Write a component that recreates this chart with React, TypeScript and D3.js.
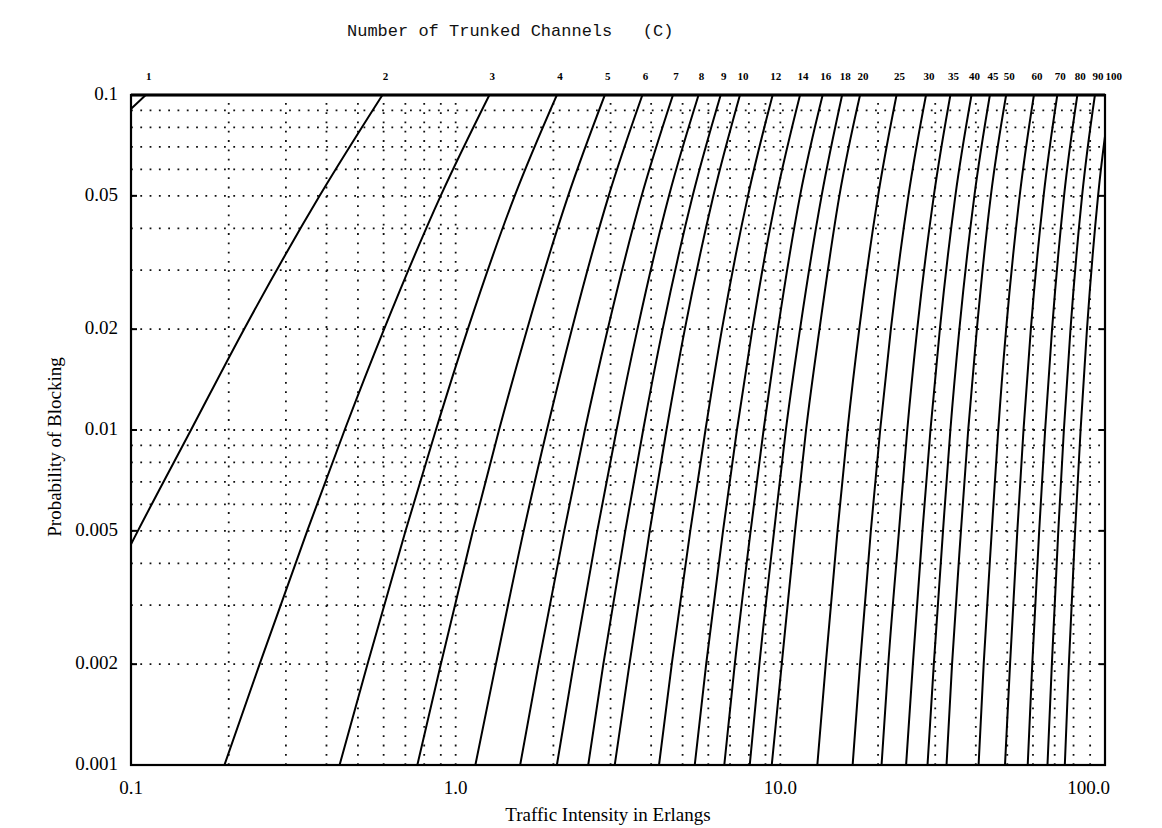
import React from "react";
import * as d3 from "d3";

// Number of trunked channels (one curve each)
const channels = [1, 2, 3, 4, 5, 6, 7, 8, 9, 10, 12, 14, 16, 18, 20, 25, 30, 35, 40, 45, 50, 60, 70, 80, 90, 100];

// Blocking probability levels at which traffic is read
const blockingLevels = [0.001, 0.002, 0.005, 0.01, 0.02, 0.05, 0.1];

// Traffic intensity (Erlangs) per channel count, one array per blocking level
const trafficP001 = [0.001, 0.0458, 0.194, 0.439, 0.762, 1.15, 1.58, 2.05, 2.56, 3.09, 4.23, 5.45, 6.72, 8.05, 9.41, 13.0, 16.7, 20.5, 24.4, 28.4, 32.5, 40.8, 49.2, 57.8, 66.5, 75.2];
const trafficP002 = [0.002, 0.0653, 0.249, 0.535, 0.9, 1.33, 1.8, 2.31, 2.85, 3.43, 4.63, 5.91, 7.24, 8.62, 10.1, 13.8, 17.6, 21.5, 25.6, 29.7, 33.8, 42.3, 51.0, 59.7, 68.6, 77.4];
const trafficP005 = [0.005, 0.105, 0.349, 0.701, 1.13, 1.62, 2.16, 2.73, 3.33, 3.96, 5.28, 6.66, 8.1, 9.57, 11.1, 15.0, 19.0, 23.2, 27.4, 31.7, 36.0, 44.8, 53.7, 62.7, 71.8, 80.9];
const trafficP01 = [0.0101, 0.153, 0.455, 0.869, 1.36, 1.91, 2.5, 3.13, 3.78, 4.46, 5.88, 7.35, 8.88, 10.4, 12.0, 16.1, 20.3, 24.6, 29.0, 33.4, 37.9, 46.9, 56.1, 65.4, 74.7, 84.1];
const trafficP02 = [0.0204, 0.223, 0.602, 1.09, 1.66, 2.28, 2.94, 3.63, 4.34, 5.08, 6.61, 8.2, 9.83, 11.5, 13.2, 17.5, 21.9, 26.4, 31.0, 35.6, 40.3, 49.6, 59.1, 68.7, 78.3, 88.0];
const trafficP05 = [0.0526, 0.381, 0.899, 1.52, 2.22, 2.96, 3.74, 4.54, 5.37, 6.22, 7.95, 9.73, 11.5, 13.4, 15.2, 20.0, 24.8, 29.7, 34.6, 39.6, 44.5, 54.6, 64.7, 74.8, 85.0, 95.2];
const trafficP10 = [0.111, 0.595, 1.27, 2.05, 2.88, 3.76, 4.67, 5.6, 6.55, 7.51, 9.47, 11.5, 13.5, 15.5, 17.6, 22.8, 28.1, 33.4, 38.8, 44.2, 49.6, 60.4, 71.3, 82.2, 93.1, 104.1];

const trafficByLevel = [trafficP001, trafficP002, trafficP005, trafficP01, trafficP02, trafficP05, trafficP10];

// Axis ticks
const xTickValues = [0.1, 1, 10, 100];
const xTickLabels = ["0.1", "1.0", "10.0", "100.0"];
const yTickValues = [0.1, 0.05, 0.02, 0.01, 0.005, 0.002, 0.001];
const yTickLabels = ["0.1", "0.05", "0.02", "0.01", "0.005", "0.002", "0.001"];
const xGridValues = [0.2, 0.3, 0.4, 0.5, 0.6, 0.7, 0.8, 0.9, 1, 2, 3, 4, 5, 6, 7, 8, 9, 10, 20, 30, 40, 50, 60, 70, 80, 90];
const yGridValues = [0.002, 0.003, 0.004, 0.005, 0.006, 0.007, 0.008, 0.009, 0.01, 0.02, 0.03, 0.04, 0.05, 0.06, 0.07, 0.08, 0.09];

const W = 1162;
const H = 828;
const L = 131, R = 1105, T = 95, B = 765;
const SERIF = "'Liberation Serif', 'Times New Roman', serif";

export default function App() {
  const x = d3.scaleLog().domain([0.1, 100]).range([L, R]);
  const y = d3.scaleLog().domain([0.001, 0.1]).range([B, T]);

  const line = d3
    .line<[number, number]>()
    .x((d) => x(d[0]))
    .y((d) => y(d[1]))
    .curve(d3.curveMonotoneX);

  const curves = channels.map((c, i) => {
    const pts: [number, number][] = blockingLevels.map((p, j) => [trafficByLevel[j][i], p]);
    return { c, d: line(pts) as string, topX: x(trafficP10[i]) };
  });

  return (
    <svg
      width={W}
      height={H}
      style={{ position: "absolute", left: 0, top: 0, background: "#fff" }}
    >
      <defs>
        <clipPath id="plot">
          <rect x={L} y={T} width={R - L} height={B - T} />
        </clipPath>
      </defs>
      <rect x={0} y={0} width={W} height={H} fill="#fff" />

      <text
        x={347}
        y={36}
        fontFamily="'Liberation Mono', 'Courier New', monospace"
        fontSize={17}
        fill="#111"
        style={{ whiteSpace: "pre" }}
      >
        {"Number of Trunked Channels   (C)"}
      </text>

      {/* grid */}
      <g stroke="#111" strokeWidth={1.8} strokeDasharray="1.8 7.5" fill="none">
        {xGridValues.map((v) => (
          <line key={"gx" + v} x1={x(v)} x2={x(v)} y1={B} y2={T} />
        ))}
        {yGridValues.map((v) => (
          <line key={"gy" + v} x1={L} x2={R} y1={y(v)} y2={y(v)} />
        ))}
      </g>

      {/* y ticks on both borders */}
      <g stroke="#000" strokeWidth={2}>
        {yTickValues.map((v) => (
          <g key={"yt" + v}>
            <line x1={L} x2={L + 6} y1={y(v)} y2={y(v)} />
            <line x1={R - 6} x2={R} y1={y(v)} y2={y(v)} />
          </g>
        ))}
      </g>

      {/* curves */}
      <g clipPath="url(#plot)" fill="none" stroke="#000" strokeWidth={2}>
        {curves.map((cv) => (
          <path key={"c" + cv.c} d={cv.d} />
        ))}
      </g>

      {/* frame */}
      <rect x={L} y={T} width={R - L} height={B - T} fill="none" stroke="#000" strokeWidth={2.2} />
      <line x1={L} x2={R} y1={T} y2={T} stroke="#000" strokeWidth={3} />

      {/* top channel labels */}
      <g fontFamily={SERIF} fontSize={11} fontWeight="bold" textAnchor="middle" fill="#000">
        {curves.map((cv) => (
          <text key={"tl" + cv.c} x={cv.topX + 3} y={80}>
            {cv.c}
          </text>
        ))}
      </g>

      {/* y tick labels */}
      <g fontFamily={SERIF} fontSize={19} textAnchor="end" fill="#000">
        {yTickValues.map((v, i) => (
          <text key={"yl" + v} x={118} y={y(v) + 5}>
            {yTickLabels[i]}
          </text>
        ))}
      </g>

      {/* x tick labels */}
      <g fontFamily={SERIF} fontSize={19} fill="#000">
        {xTickValues.map((v, i) => (
          <text
            key={"xl" + v}
            x={i === xTickValues.length - 1 ? x(v) + 5 : x(v)}
            y={794}
            textAnchor={i === xTickValues.length - 1 ? "end" : "middle"}
          >
            {xTickLabels[i]}
          </text>
        ))}
      </g>

      <text x={608} y={821} fontFamily={SERIF} fontSize={19} textAnchor="middle" fill="#000">
        Traffic Intensity in Erlangs
      </text>
      <text
        transform={`translate(61, 447) rotate(-90)`}
        fontFamily={SERIF}
        fontSize={19}
        textAnchor="middle"
        fill="#000"
      >
        Probability of Blocking
      </text>
    </svg>
  );
}
